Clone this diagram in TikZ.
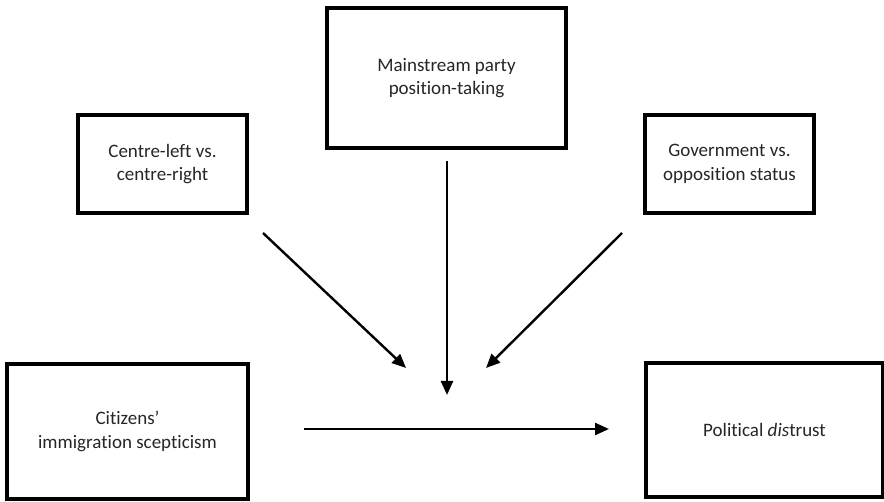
\documentclass[tikz,border=0pt]{standalone}
\usepackage{fontspec}
\setmainfont{Carlito}[Ligatures=NoCommon]
\usetikzlibrary{arrows.meta}
\begin{document}
\begin{tikzpicture}[x=1pt,y=-1pt,
  box/.style={draw=black, line width=3.5pt, fill=white, rectangle, inner sep=0pt,
    align=center, text=black!85, font=\fontsize{19}{23.5}\selectfont},
  arr/.style={draw=black, line width=2.4pt, -{Triangle[length=14pt,width=12pt]}}]
\useasboundingbox[fill=white] (0,0) rectangle (884,502);
\node[box, minimum width=239pt, minimum height=140pt] (mp) at (446.5,78) {Mainstream party\\position-taking};
\node[box, minimum width=169pt, minimum height=98pt] (lr) at (162.5,164) {Centre-left vs.\\centre-right};
\node[box, minimum width=169pt, minimum height=98pt] (gov) at (729.5,164) {Government vs.\\opposition status};
\node[box, minimum width=241pt, minimum height=135pt] (cit) at (127.5,431.5) {Citizens’\\immigration scepticism};
\node[box, minimum width=237pt, minimum height=134pt] (dist) at (764.5,430) {Political \textit{dis}trust};
\coordinate (lrs) at (263,233);
\coordinate (lre) at (406,368);
\coordinate (govs) at (622,233);
\coordinate (gove) at (486,368);
\coordinate (mps) at (447,161);
\coordinate (mpe) at (447,395);
\coordinate (cits) at (304,429);
\coordinate (diste) at (609,429);
\draw[arr] (lrs) -- (lre);
\draw[arr] (govs) -- (gove);
\draw[arr] (mps) -- (mpe);
\draw[arr] (cits) -- (diste);
\end{tikzpicture}
\end{document}
